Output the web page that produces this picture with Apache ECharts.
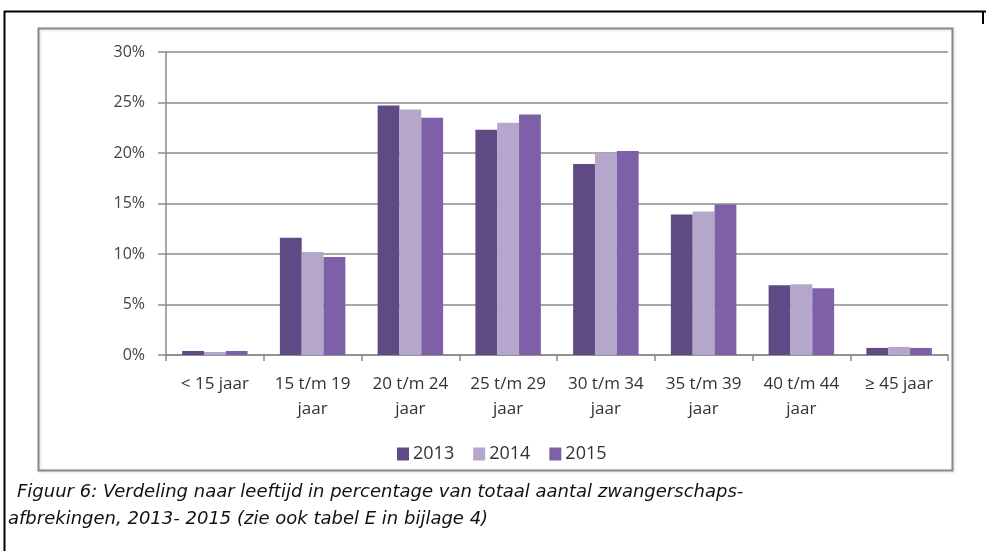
<!DOCTYPE html>
<html>
<head>
<meta charset="utf-8">
<script src="https://cdn.jsdelivr.net/npm/echarts@6/dist/echarts.min.js"></script>
<style>
html,body{margin:0;padding:0;background:#fff;}
#c{width:986px;height:551px;}
</style>
</head>
<body>
<div id="c"></div>
<script>
var categories = ['< 15 jaar', '15 t/m 19\njaar', '20 t/m 24\njaar', '25 t/m 29\njaar', '30 t/m 34\njaar', '35 t/m 39\njaar', '40 t/m 44\njaar', '≥ 45 jaar'];
var seriesNames = ['2013', '2014', '2015'];
var values2013 = [0.4, 11.6, 24.7, 22.3, 18.9, 13.9, 6.9, 0.7];
var values2014 = [0.3, 10.2, 24.3, 23.0, 20.0, 14.2, 7.0, 0.8];
var values2015 = [0.4, 9.7, 23.5, 23.8, 20.2, 14.9, 6.6, 0.7];
var yTicks = [0, 5, 10, 15, 20, 25, 30];
var captionLines = ['Figuur 6: Verdeling naar leeftijd in percentage van totaal aantal zwangerschaps-', 'afbrekingen, 2013- 2015 (zie ook tabel E in bijlage 4)'];

var colors = ['#5f4a85', '#b5a6cb', '#7d60a8'];
var allValues = [values2013, values2014, values2015];

var chart = echarts.init(document.getElementById('c'), null, {renderer: 'canvas'});
var labelFont = '"Open Sans", Lato, sans-serif';

var option = {
  animation: false,
  backgroundColor: '#ffffff',
  grid: {left: 166, right: 38, top: 52, bottom: 196, containLabel: false},
  legend: {
    data: seriesNames,
    left: 392,
    top: 440,
    itemWidth: 12,
    itemHeight: 13,
    itemGap: 19,
    icon: 'rect',
    textStyle: {fontFamily: labelFont, fontSize: 18, color: '#333', padding: [0, 0, 0, -1]}
  },
  xAxis: {
    type: 'category',
    data: categories,
    axisLine: {lineStyle: {color: '#8a8a8a', width: 1.5}},
    axisTick: {show: true, length: 6, lineStyle: {color: '#8a8a8a', width: 1.5}},
    axisLabel: {margin: 17, fontFamily: labelFont, fontSize: 17, color: '#333', lineHeight: 25, interval: 0}
  },
  yAxis: {
    type: 'value',
    min: yTicks[0],
    max: yTicks[yTicks.length - 1],
    interval: 5,
    axisLine: {show: true, lineStyle: {color: '#8a8a8a', width: 1.5}},
    axisTick: {show: true, length: 8, lineStyle: {color: '#8a8a8a', width: 1.5}},
    splitLine: {lineStyle: {color: '#8a8a8a', width: 1.5}},
    axisLabel: {margin: 21, fontFamily: labelFont, fontSize: 16, color: '#444', formatter: function (v) { return v + '%'; }}
  },
  series: seriesNames.map(function (name, i) {
    return {
      name: name,
      type: 'bar',
      data: allValues[i],
      barGap: '0%',
      barCategoryGap: '33%',
      itemStyle: {color: colors[i]}
    };
  }),
  graphic: [
    {type: 'line', shape: {x1: 4, y1: 11.5, x2: 986, y2: 11.5}, style: {stroke: '#000', lineWidth: 2}, z: 10},
    {type: 'line', shape: {x1: 4.5, y1: 11, x2: 4.5, y2: 551}, style: {stroke: '#000', lineWidth: 2}, z: 10},
    {type: 'line', shape: {x1: 983, y1: 11, x2: 983, y2: 24}, style: {stroke: '#000', lineWidth: 2}, z: 10},
    {type: 'rect', shape: {x: 38.5, y: 28.5, width: 914, height: 442}, style: {fill: 'none', stroke: '#8a8a8a', lineWidth: 2, shadowBlur: 3, shadowColor: 'rgba(0,0,0,0.15)', shadowOffsetX: 1, shadowOffsetY: 1}, z: 10},
    {type: 'text', left: 17, top: 483, style: {text: captionLines[0], font: 'italic 18px "DejaVu Sans", sans-serif', fill: '#111'}, z: 10},
    {type: 'text', left: 8, top: 510, style: {text: captionLines[1], font: 'italic 18px "DejaVu Sans", sans-serif', fill: '#111'}, z: 10}
  ]
};
chart.setOption(option);
</script>
</body>
</html>
